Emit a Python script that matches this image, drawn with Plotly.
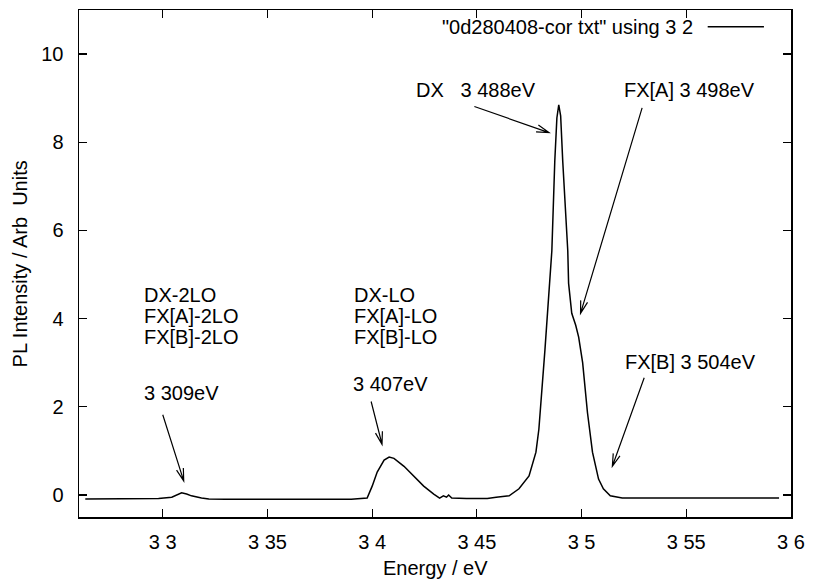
import math
import plotly.graph_objects as go

# ---- data ----
energy = [3.263, 3.270, 3.280, 3.290, 3.298, 3.3043, 3.3066, 3.3090, 3.3114, 3.3137,
          3.3185, 3.3220, 3.330, 3.345, 3.360, 3.375, 3.390, 3.3976, 3.4000, 3.4024,
          3.4057, 3.4081, 3.4104, 3.4152, 3.4199, 3.4246, 3.4294, 3.4322, 3.4340, 3.4355,
          3.4365, 3.4380, 3.445, 3.455, 3.4592, 3.4654, 3.4701, 3.4749, 3.4782, 3.4796,
          3.4825, 3.4842, 3.4858, 3.4872, 3.4882, 3.4891, 3.4900, 3.4910, 3.4934, 3.4938,
          3.4953, 3.4972, 3.4986, 3.5005, 3.5028, 3.5052, 3.5081, 3.5104, 3.5137, 3.5194,
          3.530, 3.550, 3.570, 3.5943]
intensity = [-0.09, -0.09, -0.09, -0.08, -0.08, -0.05, 0.00, 0.05, 0.02, -0.02,
             -0.07, -0.09, -0.10, -0.10, -0.10, -0.10, -0.10, -0.07, 0.20, 0.52,
             0.79, 0.86, 0.83, 0.65, 0.43, 0.20, 0.02, -0.07, -0.02, -0.05,
             0.00, -0.07, -0.08, -0.08, -0.05, -0.02, 0.14, 0.43, 0.97, 1.49,
             3.29, 4.40, 5.54, 7.57, 8.55, 8.85, 8.60, 7.57, 5.54, 4.80,
             4.12, 3.85, 3.58, 3.00, 1.87, 0.97, 0.36, 0.14, -0.02, -0.07,
             -0.07, -0.07, -0.07, -0.07]

x_range = [3.26, 3.6]
y_range = [-0.5, 11]
x_tickvals = [3.30, 3.35, 3.40, 3.45, 3.50, 3.55, 3.60]
x_ticktext = ["3 3", "3 35", "3 4", "3 45", "3 5", "3 55", "3 6"]
y_tickvals = [0, 2, 4, 6, 8, 10]

x_title = "Energy / eV"
y_title = "PL Intensity / Arb  Units"
legend_text = '"0d280408-cor txt" using 3 2'

# annotation labels: (text, x, y)
labels = [
    ("DX   3 488eV", 3.4199, 9.19),
    ("FX[A] 3 498eV", 3.5194, 9.19),
    ("FX[B] 3 504eV", 3.5199, 3.02),
    ("DX-2LO", 3.2903, 4.53),
    ("FX[A]-2LO", 3.2903, 4.05),
    ("FX[B]-2LO", 3.2903, 3.58),
    ("3 309eV", 3.2903, 2.32),
    ("DX-LO", 3.3905, 4.53),
    ("FX[A]-LO", 3.3905, 4.05),
    ("FX[B]-LO", 3.3905, 3.58),
    ("3 407eV", 3.3900, 2.52),
]
# arrows: (tail_x, tail_y, head_x, head_y)
arrows = [
    (3.4488, 8.81, 3.4844, 8.22),
    (3.5289, 8.78, 3.4995, 4.12),
    (3.5299, 2.66, 3.5147, 0.65),
    (3.3000, 1.82, 3.3100, 0.32),
    (3.3995, 2.12, 3.4047, 1.15),
]

FONT = "Liberation Sans, Arial, Helvetica, sans-serif"
FS = 20
W, H = 813, 583
M = dict(l=79, r=16, t=8, b=66)
plot_w = W - M["l"] - M["r"]
plot_h = H - M["t"] - M["b"]
px_per_x = plot_w / (x_range[1] - x_range[0])
px_per_y = plot_h / (y_range[1] - y_range[0])

fig = go.Figure()
fig.add_trace(go.Scatter(x=energy, y=intensity, mode="lines",
                         line=dict(color="black", width=1.5),
                         showlegend=False, name=legend_text))

annotations = []
for text, x, y in labels:
    annotations.append(dict(x=x, y=y, xref="x", yref="y", text=text, showarrow=False,
                            xanchor="left", yanchor="middle",
                            font=dict(family=FONT, size=FS, color="black")))

# gnuplot-style arrows with open V heads
shapes = []
head_len, head_ang = 13.0, math.radians(16)
for tx, ty, hx, hy in arrows:
    dxp = (hx - tx) * px_per_x
    dyp = (hy - ty) * px_per_y
    ang = math.atan2(dyp, dxp)
    wings = []
    for s in (1, -1):
        a = ang + math.pi + s * head_ang
        wx = hx + head_len * math.cos(a) / px_per_x
        wy = hy + head_len * math.sin(a) / px_per_y
        wings.append((wx, wy))
    path = (f"M {tx},{ty} L {hx},{hy} "
            f"M {wings[0][0]},{wings[0][1]} L {hx},{hy} L {wings[1][0]},{wings[1][1]}")
    shapes.append(dict(type="path", xref="x", yref="y", path=path,
                       line=dict(color="black", width=1.2)))

# legend (gnuplot style: text then line sample)
annotations.append(dict(x=0.865, y=0.967, xref="paper", yref="paper", text=legend_text,
                        showarrow=False, xanchor="right", yanchor="middle",
                        font=dict(family=FONT, size=FS, color="black")))
shapes.append(dict(type="line", xref="paper", yref="paper", x0=0.883, x1=0.962,
                   y0=0.967, y1=0.967, line=dict(color="black", width=1.5)))

# axis titles placed as in the reference
annotations.append(dict(x=0.5, y=-0.1, xref="paper", yref="paper", text=x_title,
                        showarrow=False, xanchor="center", yanchor="middle",
                        font=dict(family=FONT, size=FS, color="black")))
annotations.append(dict(x=-0.083, y=0.5, xref="paper", yref="paper", text=y_title,
                        showarrow=False, xanchor="center", yanchor="middle",
                        textangle=-90,
                        font=dict(family=FONT, size=FS, color="black")))

fig.update_layout(
    width=W, height=H,
    margin=M,
    paper_bgcolor="white", plot_bgcolor="white",
    font=dict(family=FONT, size=FS, color="black"),
    annotations=annotations,
    shapes=shapes,
    hovermode=False,
    xaxis=dict(range=x_range, tickvals=x_tickvals, ticktext=x_ticktext,
               ticks="inside", ticklen=8, tickwidth=1.2, tickcolor="black",
               showline=True, linecolor="black", linewidth=1.5, mirror="ticks",
               showgrid=False, zeroline=False, ticklabelstandoff=6),
    yaxis=dict(range=y_range, tickvals=y_tickvals,
               ticks="inside", ticklen=8, tickwidth=1.2, tickcolor="black",
               showline=True, linecolor="black", linewidth=1.5, mirror="ticks",
               showgrid=False, zeroline=False, ticklabelstandoff=10),
)

# remove the browser's default 8px page margin so the figure sits at (0, 0)
fig.write_html("out.html",
               config={"displayModeBar": False, "staticPlot": True},
               post_script="document.body.style.margin='0';"
                           "document.body.style.overflow='hidden';")
